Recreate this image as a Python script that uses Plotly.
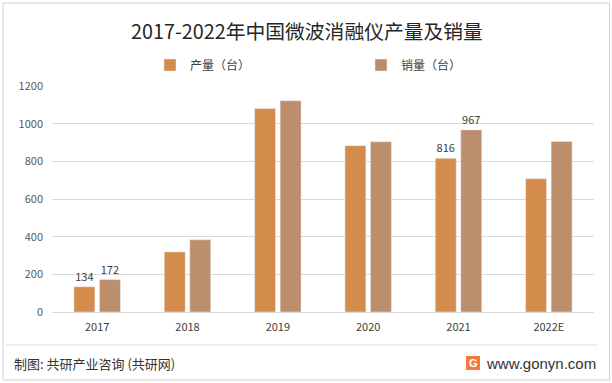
import plotly.graph_objects as go

categories = ["2017", "2018", "2019", "2020", "2021", "2022E"]
production = [134, 319, 1080, 883, 816, 708]
sales = [172, 383, 1122, 904, 967, 905]
production_labels = ["134", "", "", "", "816", ""]
sales_labels = ["172", "", "", "", "967", ""]
y_ticks = [0, 200, 400, 600, 800, 1000, 1200]

W, H = 612, 383
L, R, T, B = 52, 594, 86, 312


def px_x(px):
    return (px - L) / (R - L)


def px_y(py):
    return (B - py) / (B - T)


CJK = "Noto Sans CJK SC, Microsoft YaHei, sans-serif"

fig = go.Figure()
fig.add_trace(go.Bar(
    x=categories, y=production, name="产量（台）",
    marker=dict(color="#D48C4C"),
    text=production_labels, textposition="outside", cliponaxis=False,
    textfont=dict(size=11, color="#404040", family=CJK),
))
fig.add_trace(go.Bar(
    x=categories, y=sales, name="销量（台）",
    marker=dict(color="#BC8E6C"),
    text=sales_labels, textposition="outside", cliponaxis=False,
    textfont=dict(size=11, color="#404040", family=CJK),
))

fig.update_layout(
    width=W, height=H,
    margin=dict(l=L, r=W - R, t=T, b=H - B, pad=0),
    paper_bgcolor="white", plot_bgcolor="white",
    barmode="group", bargap=0.435, bargroupgap=0.18,
    font=dict(family=CJK, size=11, color="#595959"),
    showlegend=True,
    legend=dict(
        orientation="h", x=px_x(150), xanchor="left",
        y=px_y(65), yanchor="middle",
        entrywidth=166, entrywidthmode="pixels",
        font=dict(size=12, color="#404040", family=CJK),
        itemwidth=30, bgcolor="rgba(0,0,0,0)",
    ),
    xaxis=dict(
        showgrid=False, showline=True, linecolor="#d9d9d9", linewidth=1,
        ticks="", tickfont=dict(size=11, color="#404040"),
        ticklabelstandoff=5, fixedrange=True,
    ),
    yaxis=dict(
        range=[0, 1200], tickvals=y_ticks, showgrid=True, gridcolor="#d9d9d9",
        gridwidth=1, zeroline=False, showline=False, ticks="",
        tickfont=dict(size=11, color="#595959"), ticklabelstandoff=8,
        fixedrange=True,
    ),
)

# title
fig.add_annotation(
    text="2017-2022年中国微波消融仪产量及销量", xref="paper", yref="paper",
    x=px_x(307), y=px_y(31), xanchor="center", yanchor="middle",
    showarrow=False, font=dict(size=19.8, color="#262626", family=CJK),
)

# outer border and footer separator
fig.add_shape(type="rect", xref="paper", yref="paper",
              x0=px_x(3), x1=px_x(609.5), y0=px_y(380), y1=px_y(3),
              line=dict(color="#d0d0d0", width=1), layer="below")
fig.add_shape(type="line", xref="paper", yref="paper",
              x0=px_x(6), x1=px_x(597), y0=px_y(345), y1=px_y(345),
              line=dict(color="#d9d9d9", width=1))

# footer texts
fig.add_annotation(
    text="制图: 共研产业咨询 (共研网)", xref="paper", yref="paper",
    x=px_x(12), y=px_y(363), xanchor="left", yanchor="middle",
    showarrow=False, font=dict(size=13, color="#333333", family=CJK),
)
fig.add_annotation(
    text="www.gonyn.com", xref="paper", yref="paper",
    x=px_x(598), y=px_y(363), xanchor="right", yanchor="middle",
    showarrow=False, font=dict(size=15, color="#333333", family="Arial, Liberation Sans, sans-serif"),
)
# logo
fig.add_shape(type="rect", xref="paper", yref="paper",
              x0=px_x(466), x1=px_x(480), y0=px_y(370), y1=px_y(356),
              fillcolor="#F27A3C", line=dict(width=0))
fig.add_annotation(
    text="<b>G</b>", xref="paper", yref="paper",
    x=px_x(473), y=px_y(363), xanchor="center", yanchor="middle",
    showarrow=False, font=dict(size=11, color="white", family="Arial, sans-serif"),
)

fig.write_html("out.html", config={"displayModeBar": False},
               post_script="document.body.style.margin='0';")
